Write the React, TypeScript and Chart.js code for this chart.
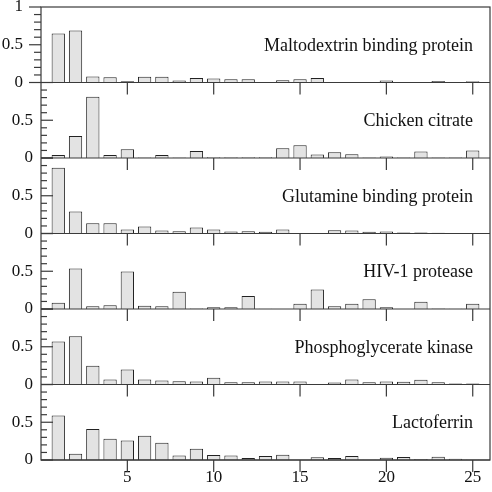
import React, { useEffect, useRef } from "react";
import { Chart, registerables } from "chart.js";

Chart.register(...registerables);

// ---- data ----
const positions = [1, 2, 3, 4, 5, 6, 7, 8, 9, 10, 11, 12, 13, 14, 15, 16, 17, 18, 19, 20, 21, 22, 23, 24, 25];

const panelNames = [
  "Maltodextrin binding protein",
  "Chicken citrate",
  "Glutamine binding protein",
  "HIV-1 protease",
  "Phosphoglycerate kinase",
  "Lactoferrin",
];

const maltodextrin = [0.65, 0.69, 0.08, 0.07, 0.015, 0.075, 0.075, 0.027, 0.058, 0.053, 0.044, 0.044, 0, 0.03, 0.044, 0.058, 0, 0.006, 0.006, 0.025, 0, 0.006, 0.02, 0, 0.018];
const chickenCitrate = [0.04, 0.29, 0.81, 0.04, 0.115, 0.008, 0.04, 0.005, 0.093, 0.01, 0.01, 0.01, 0.01, 0.13, 0.17, 0.045, 0.075, 0.05, 0.008, 0.02, 0.008, 0.085, 0.008, 0.008, 0.1];
const glutamine = [0.87, 0.29, 0.137, 0.137, 0.053, 0.093, 0.04, 0.031, 0.08, 0.053, 0.027, 0.031, 0.022, 0.053, 0.004, 0.004, 0.044, 0.04, 0.022, 0.027, 0.013, 0.013, 0.01, 0.008, 0.008];
const hivProtease = [0.084, 0.535, 0.035, 0.049, 0.496, 0.044, 0.035, 0.23, 0.008, 0.022, 0.022, 0.173, 0.004, 0, 0.071, 0.257, 0.035, 0.071, 0.128, 0.022, 0, 0.097, 0.008, 0.004, 0.071];
const phosphoglycerate = [0.57, 0.64, 0.25, 0.066, 0.2, 0.066, 0.053, 0.044, 0.04, 0.088, 0.031, 0.031, 0.04, 0.04, 0.04, 0, 0.027, 0.066, 0.031, 0.04, 0.035, 0.062, 0.031, 0.013, 0.013];
const lactoferrin = [0.59, 0.084, 0.41, 0.28, 0.257, 0.32, 0.23, 0.058, 0.15, 0.066, 0.058, 0.027, 0.053, 0.071, 0, 0.035, 0.027, 0.053, 0.004, 0.031, 0.04, 0.013, 0.044, 0.018, 0.004];

const panelValues = [maltodextrin, chickenCitrate, glutamine, hivProtease, phosphoglycerate, lactoferrin];

const xTickValues = [5, 10, 15, 20, 25];
const yTickValuesTop = [0, 0.5, 1];
const yTickValues = [0, 0.5];
const yMajorTicks = [0, 0.5, 1];
const yMinorTicks = [0.1, 0.2, 0.3, 0.4, 0.6, 0.7, 0.8, 0.9];

// ---- styles ----
const FONT = "'Liberation Serif', 'Times New Roman', serif";
const TEXT = "#111111";
const AXIS = "#3a3a3a";
const BAR_FILL = "#e3e3e3";
const BAR_EDGE = "#222222";

const panelPlugin = {
  id: "panelFrame",
  afterDatasetsDraw(chart: any) {
    const { ctx, chartArea } = chart;
    const { left, right, top, bottom } = chartArea;
    const xs = chart.scales.x;
    ctx.save();
    ctx.strokeStyle = AXIS;
    ctx.lineWidth = 1.2;
    const line = (x1: number, y1: number, x2: number, y2: number) => {
      ctx.beginPath();
      ctx.moveTo(x1, y1);
      ctx.lineTo(x2, y2);
      ctx.stroke();
    };
    ctx.strokeRect(left, top, right - left, bottom - top);
    panelNames.forEach((name, p) => {
      const ys = chart.scales["y" + p];
      const base = ys.getPixelForValue(0);
      line(left, base, right, base);
      const dir = p === 0 ? -1 : 1;
      yMajorTicks.forEach((v) => {
        const y = ys.getPixelForValue(v);
        line(left, y, left + dir * 12, y);
      });
      yMinorTicks.forEach((v) => {
        const y = ys.getPixelForValue(v);
        line(left, y, left + dir * (p === 0 ? 7 : 6), y);
      });
      xTickValues.forEach((v) => {
        const x = xs.getPixelForValue(v);
        line(x, base, x, base + 12);
      });
      ctx.fillStyle = TEXT;
      ctx.font = `18px ${FONT}`;
      ctx.textAlign = "right";
      ctx.textBaseline = "alphabetic";
      ctx.fillText(name, right - 17, ys.getPixelForValue(0.5) + 6);
    });
    ctx.restore();
  },
};

export default function App() {
  const ref = useRef<HTMLCanvasElement>(null);

  useEffect(() => {
    if (!ref.current) return;
    const scales: any = {};
    for (let p = panelNames.length - 1; p >= 0; p--) {
      scales["y" + p] = {
        type: "linear",
        position: "left",
        stack: "panels",
        stackWeight: 1,
        min: 0,
        max: 1,
        offset: false,
        grid: { display: false, drawTicks: false },
        border: { display: false },
        afterBuildTicks: (s: any) => {
          s.ticks = (p === 0 ? yTickValuesTop : yTickValues).map((v) => ({ value: v }));
        },
        afterFit: (s: any) => {
          s.width = 41;
          s.paddingTop = 0;
          s.paddingBottom = 0;
        },
        ticks: {
          padding: p === 0 ? 18 : 8,
          color: TEXT,
          font: { family: FONT, size: 17 },
          autoSkip: false,
          callback: (v: any) => String(v),
        },
      };
    }
    scales.x = {
      type: "linear",
      position: "bottom",
      min: 0,
      max: 26,
      offset: false,
      grid: { display: false, drawTicks: false, offset: false },
      border: { display: false },
      afterBuildTicks: (s: any) => {
        s.ticks = xTickValues.map((v) => ({ value: v }));
      },
      afterFit: (s: any) => {
        s.height = 32;
        s.paddingLeft = 0;
        s.paddingRight = 0;
      },
      ticks: {
        padding: 7,
        color: TEXT,
        font: { family: FONT, size: 17 },
        maxRotation: 0,
        autoSkip: false,
        callback: (v: any) => String(v),
      },
    };

    const chart = new Chart(ref.current, {
      type: "bar",
      data: {
        datasets: panelValues.map((vals, p) => ({
          label: panelNames[p],
          data: positions.map((x, i) => ({ x, y: vals[i] })),
          yAxisID: "y" + p,
          xAxisID: "x",
          backgroundColor: BAR_FILL,
          borderColor: BAR_EDGE,
          borderWidth: 1,
          grouped: false,
          barPercentage: 0.77,
          categoryPercentage: 1,
        })),
      },
      options: {
        animation: false,
        responsive: false,
        layout: { padding: { top: 7, right: 2, bottom: 0, left: 0 } },
        plugins: { legend: { display: false }, tooltip: { enabled: false } },
        scales,
      },
      plugins: [panelPlugin],
    } as any);
    return () => chart.destroy();
  }, []);

  return (
    <div style={{ position: "fixed", left: 0, top: 0, width: 492, height: 492, background: "#ffffff" }}>
      <canvas ref={ref} width={492} height={492} style={{ display: "block" }} />
    </div>
  );
}
